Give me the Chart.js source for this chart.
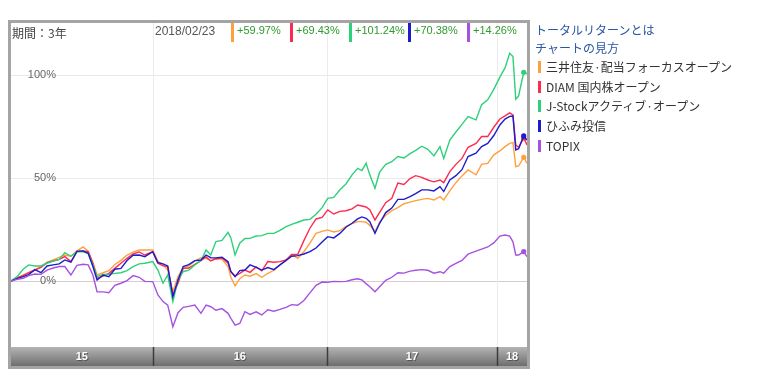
<!DOCTYPE html>
<html lang="ja">
<head>
<meta charset="UTF-8">
<title>トータルリターン 3年</title>
<script src="https://cdn.jsdelivr.net/npm/chart.js@4.4.0/dist/chart.umd.min.js"></script>
<style>
    body { margin: 0; background: #fff; }
    #wrap { position: relative; width: 776px; height: 377px; overflow: hidden; }
    #c { position: absolute; left: 0; top: 0; }
    .hd { position: absolute; top: 24px; line-height: 14px; white-space: nowrap;
          font: 11px "Liberation Sans", Arial, sans-serif; color: #2f9a2f; }
    .bar { position: absolute; top: 23px; width: 3px; height: 19px; }
    .lnk { position: absolute; left: 535px; font: 12px "Noto Sans CJK JP", sans-serif;
           color: #2a56a6; line-height: 16px; white-space: nowrap; }
    .item { position: absolute; left: 538px; font: 12px "Noto Sans CJK JP", sans-serif;
            color: #333; line-height: 16px; white-space: nowrap; padding-left: 8px; }
    .item i { position: absolute; left: 0; top: 2px; width: 3px; height: 12px; }
</style>
</head>
<body>
<div id="wrap">
    <canvas id="c" width="776" height="377"></canvas>
    <div id="header"></div>
    <div class="lnk" style="top:22px">トータルリターンとは</div>
    <div class="lnk" style="top:40px">チャートの見方</div>
    <div id="legend"></div>
</div>

<script>
    // days since 2015/02/23 (period 3 years, last = 2018/02/23)
    const days = [0, 13, 26, 38, 51, 64, 77, 90, 103, 115, 128, 141, 154, 165, 175, 184, 197, 209, 222, 235, 248, 261, 274,
        286, 303, 314, 325, 335, 346, 357, 368, 380, 393, 406, 417, 427, 438, 451, 464, 470, 479, 489, 500, 511, 524, 536, 549,
        562, 575, 588, 600, 613, 626, 639, 652, 665, 677, 690, 703, 716, 729, 741, 750, 759, 767, 778, 788, 801, 814, 827,
        840, 853, 865, 878, 891, 904, 917, 925, 938, 951, 964, 977, 994, 1006, 1019, 1032, 1045, 1056, 1066, 1073, 1079, 1085, 1096, 1103];
    const markDay = 1096;

    const names = ['三井住友·配当フォーカスオープン', 'DIAM 国内株オープン', 'J-Stockアクティブ·オープン', 'ひふみ投信', 'TOPIX'];
    const colors = ['#ffa040', '#ff2a50', '#2ed07a', '#1c1ccc', '#a552e0'];
    const lastReturn = ['+59.97%', '+69.43%', '+101.24%', '+70.38%', '+14.26%'];

    const mitsui = [0, 1.5, 3.0, 4.0, 5.5, 7.0, 9.0, 10.2, 11.5, 12.6, 12.0, 14.6, 16.5, 14.5, 9.0, 3.0, 4.0, 5.0, 8.0, 10.0, 12.6, 14.0, 15.0,
        15.0, 15.0, 9.4, 8.1, 5.3, -5.2, 2.1, 6.1, 7.3, 9.7, 11.3, 11.0, 9.9, 10.8, 10.5, 7.0, 1.8, -2.4, 1.1, 2.9, 2.3, 3.6, 1.8, 3.7,
        5.2, 7.9, 9.9, 12.8, 11.0, 14.2, 18.4, 23.1, 24.1, 24.8, 23.8, 24.4, 26.5, 27.8, 28.8, 28.8, 28.5, 27.0, 24.0, 28.6, 31.9, 34.1, 35.6,
        37.5, 38.3, 39.0, 39.6, 40.1, 39.3, 40.9, 39.3, 43.7, 47.7, 51.0, 53.9, 51.5, 56.6, 57.1, 61.2, 63.1, 65.2, 66.8, 67.2, 55.5, 55.8, 59.97, 57.1];
    const diam = [0, 1.5, 2.6, 4.0, 5.3, 6.6, 8.9, 9.7, 10.5, 11.8, 9.4, 14.4, 14.6, 14.2, 8.6, 1.3, 2.4, 3.7, 6.1, 8.6, 11.0, 13.1, 14.1,
        12.6, 14.2, 8.6, 7.3, 7.0, -6.8, -1.1, 6.1, 6.3, 8.1, 9.9, 11.7, 9.7, 10.8, 11.3, 8.6, 4.5, 2.4, 3.7, 5.3, 4.2, 6.8, 4.9, 9.4,
        9.1, 9.4, 10.2, 12.9, 12.9, 19.6, 25.6, 30.1, 30.9, 34.5, 32.5, 33.8, 34.1, 35.0, 36.9, 36.4, 35.9, 34.6, 29.6, 33.3, 38.0, 40.1, 47.5,
        46.8, 49.7, 51.1, 50.3, 49.0, 48.1, 49.0, 47.7, 53.1, 56.6, 59.5, 64.9, 66.8, 70.1, 70.1, 74.6, 78.6, 80.1, 81.6, 80.6, 66.0, 64.9, 69.43, 66.0];
    const jstock = [0, 2.1, 5.7, 7.8, 7.3, 7.3, 8.6, 9.7, 10.5, 13.8, 12.0, 14.2, 14.2, 13.4, 7.8, 2.1, 3.2, 3.2, 3.7, 4.0, 5.0, 7.0, 8.3,
        8.6, 9.4, 5.3, -1.1, 2.9, -10.0, 0.5, 4.5, 5.3, 7.8, 9.9, 15.0, 12.6, 19.1, 19.7, 23.6, 20.9, 12.6, 18.3, 20.6, 20.7, 21.8, 22.0, 23.1,
        23.1, 24.6, 26.4, 27.5, 28.5, 29.6, 29.9, 32.4, 35.6, 40.1, 40.6, 44.3, 47.1, 51.5, 54.7, 53.6, 57.1, 51.5, 45.0, 52.8, 56.6, 57.9, 60.4,
        59.7, 61.8, 63.4, 65.4, 63.9, 60.7, 65.2, 59.5, 68.4, 72.3, 76.0, 79.8, 78.2, 85.6, 87.9, 93.0, 98.9, 103.4, 110.5, 108.9, 88.2, 89.8, 101.24, 100.5];
    const hifumi = [0, 1.1, 2.1, 3.1, 5.5, 4.0, 7.3, 7.8, 8.3, 10.2, 9.1, 14.4, 14.6, 13.4, 7.0, 0.5, 2.9, 2.1, 5.7, 6.1, 9.9, 12.5, 12.6,
        11.8, 14.2, 8.9, 8.3, 7.3, -7.6, 0.5, 7.0, 7.9, 9.9, 10.2, 12.6, 11.3, 11.2, 11.5, 9.4, 4.5, 2.1, 5.0, 5.3, 7.8, 6.6, 5.3, 6.5,
        5.5, 7.8, 10.0, 12.0, 12.3, 13.1, 14.2, 16.0, 18.9, 21.5, 20.9, 23.1, 26.1, 28.0, 30.1, 31.1, 30.4, 28.8, 23.1, 28.0, 33.2, 35.4, 39.6,
        39.6, 40.9, 42.4, 44.2, 44.2, 43.7, 45.8, 43.4, 49.0, 51.1, 54.0, 60.4, 62.0, 65.2, 66.8, 70.6, 75.7, 78.6, 79.9, 80.1, 63.6, 64.2, 70.38, 68.4];
    const topix = [0, 0.8, 1.3, 2.6, 3.4, 3.2, 5.3, 6.3, 7.0, 7.0, 2.9, 7.6, 8.1, 7.8, 2.9, -5.2, -5.3, -5.7, -2.1, -1.1, 0.2, 2.6, 1.8,
        -0.2, -0.3, -6.8, -10.0, -11.7, -22.2, -15.4, -12.8, -12.3, -11.7, -15.7, -11.7, -12.5, -14.2, -13.4, -15.7, -18.1, -21.4, -20.6, -14.9, -16.2, -15.0, -16.5, -14.0,
        -14.7, -13.8, -12.8, -11.5, -11.8, -9.5, -5.8, -2.1, -0.5, -0.6, -0.2, -0.3, -0.2, 0.6, 1.1, 0.5, -1.3, -2.8, -5.2, -2.8, 0.3, 1.8, 4.0,
        3.8, 4.8, 5.2, 5.5, 5.2, 3.8, 4.5, 3.8, 7.0, 8.5, 10.0, 13.0, 14.5, 15.5, 16.5, 18.5, 21.8, 22.3, 21.8, 19.0, 12.6, 12.6, 14.26, 11.8];

    const allSeries = [mitsui, diam, jstock, hifumi, topix];

    // y grid / labels, year boundaries (days) and year labels for the bottom bar
    const yGrid = [0, 50, 100];
    const yearEdges = [303, 675, 1039];
    const yearLabels = ['15', '16', '17', '18'];

    // header: period, date, returns
    const header = document.getElementById('header');
    header.innerHTML =
        '<div class="hd" style="left:12px;color:#444;font:12px \'Noto Sans CJK JP\',sans-serif">期間：3年</div>' +
        '<div class="hd" style="left:155px;color:#555;font-size:12px">2018/02/23</div>';
    const barX = [231, 290, 349, 408, 467];
    lastReturn.forEach((t, i) => {
        header.innerHTML += '<div class="bar" style="left:' + barX[i] + 'px;background:' + colors[i] + '"></div>' +
            '<div class="hd" style="left:' + (barX[i] + 6) + 'px">' + t + '</div>';
    });

    // right legend
    const legend = document.getElementById('legend');
    names.forEach((n, i) => {
        legend.innerHTML += '<div class="item" style="top:' + (59 + i * 19.7) + 'px"><i style="background:' + colors[i] + '"></i>' + n + '</div>';
    });

    const framePlugin = {
        id: 'framePlugin',
        beforeDatasetsDraw(chart) {
            const {ctx, chartArea: a, scales: {x, y}} = chart;
            ctx.save();
            ctx.lineWidth = 1;
            yGrid.forEach(v => {
                const py = Math.round(y.getPixelForValue(v)) + 0.5;
                ctx.strokeStyle = v === 0 ? '#d8ccd3' : '#e9e9e9';
                ctx.beginPath();
                ctx.moveTo(a.left, py);
                ctx.lineTo(a.right, py);
                ctx.stroke();
            });
            yearEdges.forEach(d => {
                const px = Math.round(x.getPixelForValue(d)) + 0.5;
                ctx.strokeStyle = '#ececec';
                ctx.beginPath();
                ctx.moveTo(px, a.top);
                ctx.lineTo(px, a.bottom);
                ctx.stroke();
            });
            ctx.font = '11px "Liberation Sans", Arial, sans-serif';
            ctx.fillStyle = '#666';
            ctx.textAlign = 'right';
            ctx.textBaseline = 'middle';
            yGrid.forEach(v => ctx.fillText(v + '%', 56, y.getPixelForValue(v)));
            ctx.restore();
        },
        afterDraw(chart) {
            const {ctx, chartArea: a, scales: {x}} = chart;
            ctx.save();
            // bottom year bar
            const top = a.bottom, bottom = a.bottom + 19;
            const g = ctx.createLinearGradient(0, top, 0, bottom);
            g.addColorStop(0, '#b4b4b4');
            g.addColorStop(1, '#6e6e6e');
            ctx.fillStyle = g;
            ctx.fillRect(a.left, top, a.right - a.left, bottom - top);
            const edges = [a.left].concat(yearEdges.map(d => x.getPixelForValue(d)), [a.right]);
            ctx.strokeStyle = '#3c3c3c';
            ctx.lineWidth = 1.5;
            yearEdges.forEach(d => {
                const px = Math.round(x.getPixelForValue(d)) + 0.5;
                ctx.beginPath();
                ctx.moveTo(px, top);
                ctx.lineTo(px, bottom);
                ctx.stroke();
            });
            ctx.font = 'bold 11px "Liberation Sans", Arial, sans-serif';
            ctx.textAlign = 'center';
            ctx.textBaseline = 'middle';
            yearLabels.forEach((t, i) => {
                const cx = (edges[i] + edges[i + 1]) / 2;
                ctx.fillStyle = '#555';
                ctx.fillText(t, cx + 1, (top + bottom) / 2 + 1);
                ctx.fillStyle = '#fff';
                ctx.fillText(t, cx, (top + bottom) / 2);
            });
            // outer frame
            ctx.strokeStyle = '#a4a4a4';
            ctx.lineWidth = 3;
            ctx.strokeRect(9.5, 21.5, 519, 346);
            ctx.restore();
        }
    };

    const markIdx = days.indexOf(markDay);

    new Chart(document.getElementById('c'), {
        type: 'line',
        data: {
            datasets: allSeries.map((s, i) => ({
                label: names[i],
                data: days.map((d, k) => ({x: d, y: s[k]})),
                borderColor: colors[i],
                backgroundColor: colors[i],
                borderWidth: 1.4,
                fill: false,
                tension: 0,
                pointRadius: c => c.dataIndex === markIdx ? 2.6 : 0,
                pointBorderWidth: 0,
                order: 5 - i
            }))
        },
        options: {
            responsive: false,
            animation: false,
            devicePixelRatio: 1,
            layout: {padding: {left: 11, top: 23, right: 249, bottom: 30}},
            plugins: {legend: {display: false}, tooltip: {enabled: false}},
            scales: {
                x: {type: 'linear', min: 0, max: 1103, display: false},
                y: {min: -32.04, max: 125.2, display: false}
            }
        },
        plugins: [framePlugin]
    });
</script>
</body>
</html>
